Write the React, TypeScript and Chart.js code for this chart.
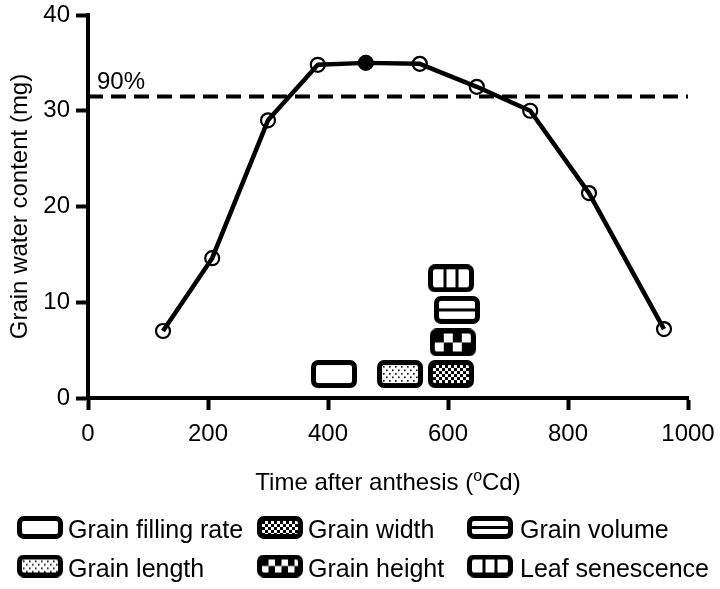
import React, { useEffect, useRef } from "react";
import { Chart, registerables } from "chart.js";

Chart.register(...registerables);

// ---------- data ----------
const timeValues = [125, 207, 300, 383, 463, 553, 648, 737, 835, 960];
const waterValues = [7.0, 14.6, 29.0, 34.8, 35.0, 34.9, 32.5, 30.0, 21.4, 7.2];
const maxIndex = 4; // the filled (maximum) point
const threshold = 31.5; // 90% of maximum water content
const thresholdLabel = "90%";
const thresholdLabelX = 15;

const xTickValues = [0, 200, 400, 600, 800, 1000];
const yTickValues = [0, 10, 20, 30, 40];

const traitNames = [
  "Grain filling rate",
  "Grain length",
  "Grain width",
  "Grain height",
  "Grain volume",
  "Leaf senescence",
];
const traitPatterns = ["empty", "stipple", "fineChecker", "bigChecker", "hLine", "vLines"];
const traitTimes = [410, 520, 605, 608, 615, 605];
const traitLevels = [2.5, 2.5, 2.5, 5.8, 9.2, 12.5];

const xTitleMain = "Time after anthesis (";
const xTitleSup = "o";
const xTitleEnd = "Cd)";
const yTitle = "Grain water content (mg)";

const FONT = "'Liberation Sans', Arial, Helvetica, sans-serif";

function roundRectPath(ctx: CanvasRenderingContext2D, x: number, y: number, w: number, h: number, r: number) {
  ctx.beginPath();
  ctx.moveTo(x + r, y);
  ctx.lineTo(x + w - r, y);
  ctx.arcTo(x + w, y, x + w, y + r, r);
  ctx.lineTo(x + w, y + h - r);
  ctx.arcTo(x + w, y + h, x + w - r, y + h, r);
  ctx.lineTo(x + r, y + h);
  ctx.arcTo(x, y + h, x, y + h - r, r);
  ctx.lineTo(x, y + r);
  ctx.arcTo(x, y, x + r, y, r);
  ctx.closePath();
}

function makeIcon(pattern: string, w: number, h: number): HTMLCanvasElement {
  const c = document.createElement("canvas");
  c.width = w;
  c.height = h;
  const ctx = c.getContext("2d") as CanvasRenderingContext2D;
  const lw = 5;
  const ix = lw, iy = lw, iw = w - 2 * lw, ih = h - 2 * lw;
  roundRectPath(ctx, lw / 2, lw / 2, w - lw, h - lw, 4.5);
  ctx.fillStyle = "#fff";
  ctx.fill();
  ctx.save();
  ctx.beginPath();
  ctx.rect(ix, iy, iw, ih);
  ctx.clip();
  ctx.fillStyle = "#000";
  if (pattern === "stipple") {
    let row = 0;
    for (let yy = iy + 1; yy < iy + ih; yy += 3.5, row++) {
      for (let xx = ix + 1 + (row % 2) * 3; xx < ix + iw; xx += 6) {
        ctx.fillRect(xx, yy, 1.6, 1.6);
      }
    }
  } else if (pattern === "fineChecker") {
    const s = 3;
    for (let j = 0; j * s < ih; j++) {
      for (let i = 0; i * s < iw; i++) {
        if ((i + j) % 2 === 0) ctx.fillRect(ix + i * s, iy + j * s, s, s);
      }
    }
  } else if (pattern === "bigChecker") {
    const s = ih / 2;
    for (let j = 0; j < 2; j++) {
      for (let i = 0; i * s < iw; i++) {
        if ((i + j) % 2 === 0) ctx.fillRect(ix + i * s, iy + j * s, s, s);
      }
    }
  } else if (pattern === "hLine") {
    ctx.fillRect(ix, iy + ih / 2 - 1.5, iw, 3);
  } else if (pattern === "vLines") {
    ctx.fillRect(ix + iw / 3 - 1.5, iy, 3, ih);
    ctx.fillRect(ix + (2 * iw) / 3 - 1.5, iy, 3, ih);
  }
  ctx.restore();
  ctx.lineWidth = lw;
  ctx.strokeStyle = "#000";
  roundRectPath(ctx, lw / 2, lw / 2, w - lw, h - lw, 4.5);
  ctx.stroke();
  return c;
}

export default function App() {
  const canvasRef = useRef<HTMLCanvasElement | null>(null);

  useEffect(() => {
    document.body.style.margin = "0";
    const canvas = canvasRef.current;
    if (!canvas) return;

    const plotIcons = traitPatterns.map((p) => makeIcon(p, 46, 28));
    const legendIcons = traitPatterns.map((p) => makeIcon(p, 46, 23));

    const overlayPlugin = {
      id: "overlay",
      beforeDraw(chart: any) {
        const ctx = chart.ctx;
        ctx.save();
        ctx.fillStyle = "#fff";
        ctx.fillRect(0, 0, chart.width, chart.height);
        ctx.restore();
      },
      afterDraw(chart: any) {
        const ctx: CanvasRenderingContext2D = chart.ctx;
        const xs = chart.scales.x;
        const ys = chart.scales.y;
        ctx.save();
        ctx.fillStyle = "#000";
        // 90% label
        ctx.font = `24px ${FONT}`;
        ctx.textAlign = "left";
        ctx.textBaseline = "alphabetic";
        ctx.fillText(thresholdLabel, xs.getPixelForValue(thresholdLabelX), ys.getPixelForValue(threshold) - 7);

        // x axis title with superscript
        const area = chart.chartArea;
        const cx = (area.left + area.right) / 2;
        const base = 490;
        ctx.font = `24px ${FONT}`;
        const w1 = ctx.measureText(xTitleMain).width;
        const w3 = ctx.measureText(xTitleEnd).width;
        ctx.font = `16px ${FONT}`;
        const w2 = ctx.measureText(xTitleSup).width;
        let x0 = cx - (w1 + w2 + w3) / 2;
        ctx.font = `24px ${FONT}`;
        ctx.fillText(xTitleMain, x0, base);
        x0 += w1;
        ctx.font = `16px ${FONT}`;
        ctx.fillText(xTitleSup, x0, base - 9.5);
        x0 += w2;
        ctx.font = `24px ${FONT}`;
        ctx.fillText(xTitleEnd, x0, base);

        // legend (3 columns x 2 rows)
        const iconX = [17, 257, 467];
        const textX = [68, 308, 520];
        const iconCY = [527.5, 566];
        const textBase = [538, 577];
        ctx.font = `25px ${FONT}`;
        traitNames.forEach((name, i) => {
          const col = Math.floor(i / 2);
          const row = i % 2;
          const ic = legendIcons[i];
          ctx.drawImage(ic, iconX[col], iconCY[row] - ic.height / 2);
          ctx.fillText(name, textX[col], textBase[row]);
        });
        ctx.restore();
      },
    };

    const chart = new Chart(canvas, {
      type: "line",
      data: {
        datasets: [
          {
            type: "line",
            data: timeValues.map((t, i) => ({ x: t, y: waterValues[i] })),
            borderColor: "#000",
            borderWidth: 4.5,
            borderJoinStyle: "round",
            pointRadius: 7,
            pointBorderWidth: 2.2,
            pointBorderColor: "#000",
            pointBackgroundColor: waterValues.map((_, i) => (i === maxIndex ? "#000" : "rgba(0,0,0,0)")),
            tension: 0,
            order: 1,
          } as any,
          {
            type: "line",
            data: [
              { x: xTickValues[0], y: threshold },
              { x: xTickValues[xTickValues.length - 1], y: threshold },
            ],
            borderColor: "#000",
            borderWidth: 4,
            borderDash: [15, 8],
            pointRadius: 0,
            order: 2,
          } as any,
          {
            type: "scatter",
            data: traitTimes.map((t, i) => ({ x: t, y: traitLevels[i] })),
            pointStyle: plotIcons as any,
            pointRadius: 5,
            showLine: false,
            order: 0,
          } as any,
        ],
      },
      options: {
        responsive: false,
        animation: false,
        events: [],
        layout: { padding: { left: 0, right: 32, top: 15, bottom: 89 } },
        plugins: { legend: { display: false }, tooltip: { enabled: false } },
        scales: {
          x: {
            type: "linear",
            min: 0,
            max: 1000,
            afterBuildTicks: (s: any) => {
              s.ticks = xTickValues.map((v) => ({ value: v }));
            },
            afterFit: (s: any) => {
              s.height = 102;
              s.paddingLeft = 0;
              s.paddingRight = 0;
            },
            grid: { drawOnChartArea: false, drawTicks: true, tickLength: 12, tickWidth: 4, tickColor: "#000" },
            border: { display: true, width: 4, color: "#000" },
            ticks: {
              color: "#000",
              font: { family: FONT, size: 24 },
              padding: 10,
              maxRotation: 0,
              callback: (v: any) => String(v),
            },
          },
          y: {
            type: "linear",
            min: 0,
            max: 40,
            afterBuildTicks: (s: any) => {
              s.ticks = yTickValues.map((v) => ({ value: v }));
            },
            afterFit: (s: any) => {
              s.width = 88;
              s.paddingTop = 0;
              s.paddingBottom = 0;
            },
            grid: { drawOnChartArea: false, drawTicks: true, tickLength: 12, tickWidth: 4, tickColor: "#000" },
            border: { display: true, width: 4, color: "#000" },
            ticks: { color: "#000", font: { family: FONT, size: 24 }, padding: 6, callback: (v: any) => String(v) },
            title: {
              display: true,
              text: yTitle,
              color: "#000",
              font: { family: FONT, size: 24, lineHeight: 1 },
              padding: { top: 8, bottom: 0 },
            },
          },
        },
      } as any,
      plugins: [overlayPlugin],
    });

    return () => chart.destroy();
  }, []);

  return <canvas ref={canvasRef} width={720} height={589} style={{ display: "block" }} />;
}
